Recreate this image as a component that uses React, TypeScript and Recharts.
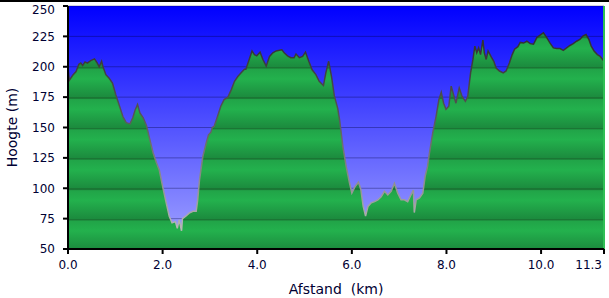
import {
  Area,
  AreaChart,
  CartesianGrid,
  ReferenceLine,
  XAxis,
  YAxis,
} from "recharts";

const distanceKm = [
  0.0, 0.03, 0.1, 0.17, 0.23, 0.27, 0.31, 0.36, 0.41, 0.48, 0.56, 0.61, 0.66,
  0.71, 0.74, 0.8, 0.87, 0.94, 1.01, 1.09, 1.16, 1.23, 1.31, 1.37, 1.42, 1.47,
  1.52, 1.59, 1.66, 1.73, 1.8, 1.87, 1.93, 2.0, 2.07, 2.14, 2.2, 2.27, 2.31,
  2.35, 2.4, 2.42, 2.49, 2.56, 2.64, 2.71, 2.74, 2.78, 2.85, 2.92, 2.97, 3.02,
  3.05, 3.09, 3.16, 3.23, 3.3, 3.38, 3.45, 3.52, 3.59, 3.66, 3.73, 3.76, 3.83,
  3.89, 3.94, 3.99, 4.06, 4.12, 4.19, 4.26, 4.33, 4.4, 4.47, 4.52, 4.57, 4.64,
  4.71, 4.78, 4.82, 4.89, 4.96, 5.02, 5.09, 5.16, 5.24, 5.31, 5.4, 5.45, 5.51,
  5.57, 5.63, 5.7, 5.74, 5.81, 5.88, 5.95, 6.0, 6.07, 6.14, 6.19, 6.24, 6.29,
  6.34, 6.41, 6.48, 6.55, 6.62, 6.69, 6.76, 6.83, 6.9, 6.97, 7.04, 7.11, 7.18,
  7.25, 7.3, 7.32, 7.36, 7.43, 7.5, 7.55, 7.6, 7.64, 7.71, 7.78, 7.84, 7.89,
  7.94, 7.99, 8.05, 8.1, 8.15, 8.2, 8.27, 8.33, 8.4, 8.45, 8.51, 8.56, 8.6,
  8.64, 8.68, 8.72, 8.77, 8.8, 8.84, 8.88, 8.94, 9.0, 9.05, 9.12, 9.2, 9.26,
  9.33, 9.39, 9.44, 9.51, 9.56, 9.63, 9.7, 9.77, 9.84, 9.91, 9.98, 10.05,
  10.12, 10.19, 10.26, 10.33, 10.4, 10.47, 10.54, 10.61, 10.68, 10.75, 10.82,
  10.89, 10.95, 11.01, 11.06, 11.12, 11.19, 11.25, 11.33,
];

const elevationM = [
  198, 189, 193, 196, 202, 203, 201, 204, 203, 205, 206.5, 203.5, 200, 204.5,
  200, 193.5, 190.5, 186.5, 177, 167.5, 159, 154, 153, 158, 164.5, 169, 162,
  158, 151.5, 140, 129, 121, 115, 101.5, 89, 77, 71.5, 72.5, 67, 74, 65, 75, 77,
  79.5, 81, 81, 90, 107, 126, 137, 144, 146, 150, 151, 159, 167.5, 173, 175,
  181, 188, 192, 195, 198, 198, 206, 213, 210, 209, 212, 206, 200.5, 208.5,
  211.5, 213, 213.5, 214, 211.5, 209, 207.5, 207.5, 210.5, 207.5, 208.5, 212,
  204.5, 197.5, 193.5, 188, 184.5, 195, 204.5, 192, 176, 166, 156.5, 134.5,
  118, 104.5, 96, 101.5, 105, 99, 85, 77, 85, 88, 89, 90.5, 93, 97.5, 94.5,
  97.5, 104, 96, 90.5, 90.5, 89, 94.5, 98.5, 80, 90.5, 92, 96, 110, 118, 129,
  145.5, 159, 173, 179, 170, 165, 167.5, 184, 177, 170, 182.5, 175.5, 171.5,
  175.5, 195, 206, 217, 211.5, 215.5, 210, 222, 211.5, 206, 213, 208.5, 204.5,
  199, 196.5, 195, 196.5, 203, 210, 214.5, 216.5, 220, 219.5, 221, 219, 218.5,
  224, 226, 228, 224, 219.5, 215.5, 215, 215, 213.5, 215.5, 217.5, 219, 221,
  222.5, 225.5, 226.5, 222.5, 217, 213, 210, 208.5, 204.5,
];

const xTicks = [0, 2, 4, 6, 8, 10, 11.33];
const yTicks = [50, 75, 100, 125, 150, 175, 200, 225, 250];

const data = distanceKm.map((km, i) => ({ km, elev: elevationM[i] }));

const TEXT = "#000033";
const FONT = "'DejaVu Sans', Verdana, sans-serif";

// last label is pulled inside the frame, like the original
function XTick(props: any) {
  const { x, y, payload, index } = props;
  const last = index === xTicks.length - 1;
  return (
    <text
      x={last ? x - 2 : x}
      y={y}
      dy="0.71em"
      textAnchor={last ? "end" : "middle"}
      fill={TEXT}
      fontSize={12}
      fontFamily={FONT}
    >
      {Number(payload.value).toFixed(1)}
    </text>
  );
}

function YTick(props: any) {
  const { x, y, payload } = props;
  const top = payload.value === 250;
  return (
    <text
      x={x}
      y={top ? y + 4 : y}
      dy="0.355em"
      textAnchor="end"
      fill={TEXT}
      fontSize={12}
      fontFamily={FONT}
    >
      {payload.value}
    </text>
  );
}

export default function App() {
  return (
    <div
      style={{
        position: "fixed",
        left: 0,
        top: 0,
        width: 609,
        height: 298,
        background: "#fff",
        fontFamily: FONT,
      }}
    >
      <div
        style={{
          position: "absolute",
          left: 0,
          top: 0,
          width: 609,
          height: 2,
          background: "#000",
        }}
      />
      <AreaChart
        width={609}
        height={298}
        data={data}
        margin={{ top: 6, right: 5, left: 0, bottom: 0 }}
      >
        <defs>
          <linearGradient id="sky" x1="0" y1="0" x2="0" y2="1">
            <stop offset="0%" stopColor="#0000ff" />
            <stop offset="100%" stopColor="#a4a6ff" />
          </linearGradient>
          <linearGradient
            id="bands"
            gradientUnits="userSpaceOnUse"
            spreadMethod="repeat"
            x1="0"
            y1="6"
            x2="0"
            y2="36.375"
          >
            <stop offset="0%" stopColor="#1a7634" />
            <stop offset="4%" stopColor="#1a7634" />
            <stop offset="8%" stopColor="#21a448" />
            <stop offset="40%" stopColor="#23b14d" />
            <stop offset="100%" stopColor="#1c8b3e" />
          </linearGradient>
          <linearGradient
            id="edge"
            gradientUnits="userSpaceOnUse"
            x1="0"
            y1="6"
            x2="0"
            y2="249"
          >
            <stop offset="0%" stopColor="#222222" />
            <stop offset="45%" stopColor="#555555" />
            <stop offset="100%" stopColor="#c8c8c8" />
          </linearGradient>
        </defs>
        <CartesianGrid
          vertical={false}
          fill="url(#sky)"
          stroke="rgba(0,0,60,0.35)"
          strokeDasharray=""
        />
        <XAxis
          dataKey="km"
          type="number"
          domain={[0, 11.33]}
          ticks={xTicks}
          height={49}
          tickSize={5}
          tickMargin={6}
          interval={0}
          axisLine={{ stroke: "#000", strokeWidth: 2 }}
          tickLine={{ stroke: "#000", strokeWidth: 2 }}
          tick={<XTick />}
          label={{
            value: "Afstand\u00a0\u00a0(km)",
            position: "insideBottom",
            offset: 4,
            fill: TEXT,
            fontSize: 14,
            fontFamily: FONT,
          }}
        />
        <YAxis
          type="number"
          domain={[50, 250]}
          ticks={yTicks}
          width={68}
          tickSize={5}
          tickMargin={8}
          interval={0}
          axisLine={{ stroke: "#000", strokeWidth: 2 }}
          tickLine={{ stroke: "#000", strokeWidth: 2 }}
          tick={<YTick />}
          label={{
            value: "Hoogte (m)",
            angle: -90,
            position: "insideLeft",
            offset: 12,
            style: { textAnchor: "middle" },
            fill: TEXT,
            fontSize: 14,
            fontFamily: FONT,
          }}
        />
        <Area
          type="linear"
          dataKey="elev"
          baseValue={50}
          fill="url(#bands)"
          fillOpacity={1}
          stroke="url(#edge)"
          strokeWidth={1.5}
          dot={false}
          activeDot={false}
          isAnimationActive={false}
        />
        <ReferenceLine x={11.33} stroke="#2fbf55" strokeWidth={2} />
      </AreaChart>
    </div>
  );
}
